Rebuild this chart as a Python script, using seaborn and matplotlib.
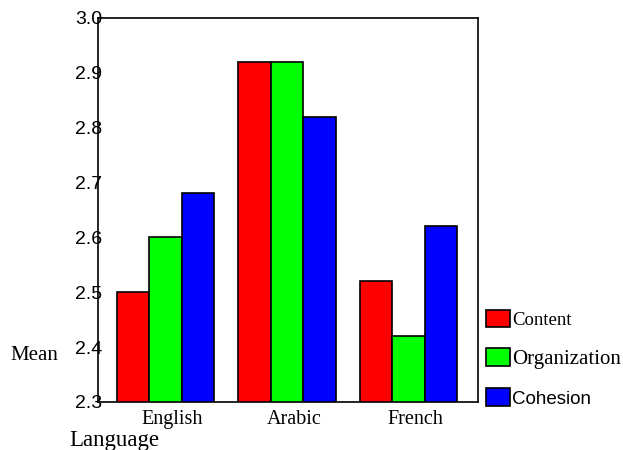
import matplotlib
matplotlib.use("Agg")
import matplotlib.pyplot as plt
import matplotlib.transforms as mtransforms
import seaborn as sns
import pandas as pd

languages = ["English", "Arabic", "French"]
measures = ["Content", "Organization", "Cohesion"]
content = [2.50, 2.92, 2.52]
organization = [2.60, 2.92, 2.42]
cohesion = [2.68, 2.82, 2.62]
yticks = [2.3, 2.4, 2.5, 2.6, 2.7, 2.8, 2.9, 3.0]
colors = ["#ff0000", "#00ff00", "#0000ff"]

rows = []
for i, lang in enumerate(languages):
    for m, vals in zip(measures, [content, organization, cohesion]):
        rows.append({"Language": lang, "Measure": m, "Mean": vals[i]})
df = pd.DataFrame(rows)

sns.set_style("white")
plt.rcParams["text.color"] = "black"
plt.rcParams["xtick.color"] = "black"
plt.rcParams["ytick.color"] = "black"
fig = plt.figure(figsize=(6.23, 4.5), dpi=100)
ax = fig.add_axes([0.157, 0.107, 0.61, 0.853])

sns.barplot(data=df, x="Language", y="Mean", hue="Measure", order=languages,
            hue_order=measures, palette=colors, width=0.8, edgecolor="black",
            linewidth=1.2, saturation=1, errorbar=None, ax=ax)

ax.set_xlim(-0.556, 2.57)
ax.set_ylim(2.3, 3.0)
ax.set_yticks(yticks)
ax.set_yticklabels([f"{t:.1f}" for t in yticks], family="Liberation Sans", fontsize=14)
ax.tick_params(axis="y", length=0, pad=-3)
ax.tick_params(axis="x", length=3, width=1, color="black", pad=3, direction="out")
offset = mtransforms.ScaledTranslation(7 / 100, 0, fig.dpi_scale_trans)
for lbl in ax.get_xticklabels():
    lbl.set_family("Liberation Serif")
    lbl.set_fontsize(14.5)
    lbl.set_transform(lbl.get_transform() + offset)
for s in ax.spines.values():
    s.set_visible(True)
    s.set_color("black")
    s.set_linewidth(1.2)

ax.set_xlabel("")
ax.set_ylabel("")
fig.text(0.016, 0.211, "Mean", family="Liberation Serif", fontsize=15, va="center")
fig.text(0.112, 0.022, "Language", family="Liberation Serif", fontsize=16.5, va="center")

ax.get_legend().remove()
handles, labels = ax.get_legend_handles_labels()
leg = fig.legend(handles, labels, loc="upper left", bbox_to_anchor=(0.78, 0.312),
                 frameon=False, handlelength=1.25, handleheight=1.0, handletextpad=0.1,
                 labelspacing=1.0, borderaxespad=0, borderpad=0, fontsize=14)
texts = leg.get_texts()
texts[0].set_family("Liberation Serif"); texts[0].set_fontsize(13.5)
texts[1].set_family("Liberation Serif"); texts[1].set_fontsize(15)
texts[2].set_family("Liberation Sans"); texts[2].set_fontsize(13.5)
for h in leg.legend_handles:
    h.set_edgecolor("black")
    h.set_linewidth(1.2)

fig.savefig("out.png", dpi=100)
